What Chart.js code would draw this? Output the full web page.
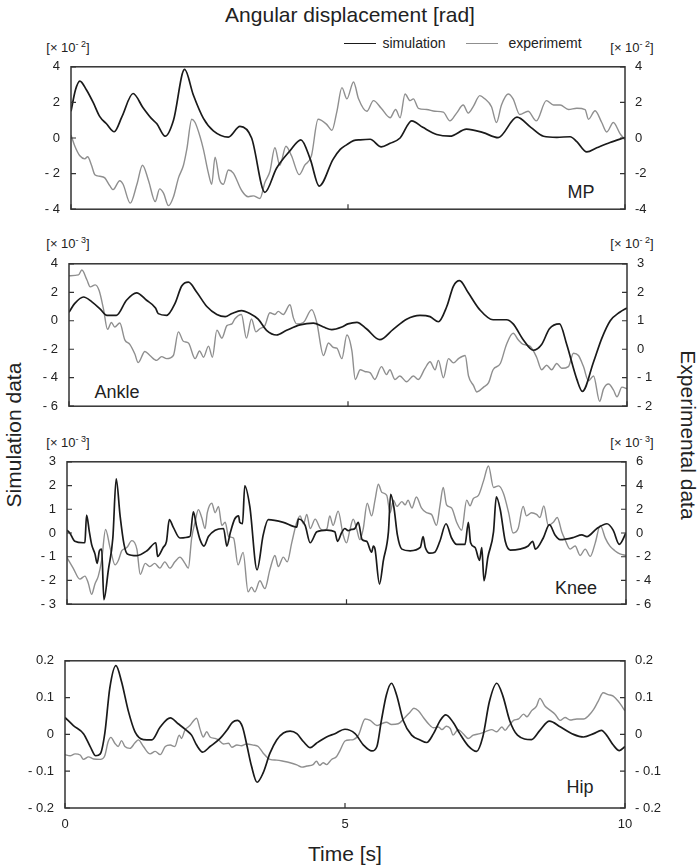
<!DOCTYPE html>
<html lang="en">
<head>
<meta charset="UTF-8">
<script src="https://cdn.jsdelivr.net/npm/chart.js@4.4.1/dist/chart.umd.min.js"></script>
<title>Angular displacement</title>
<style>
  body { margin: 0; background: #fff; font-family: "Liberation Sans", Arial, sans-serif; color: #222; }
  #fig { position: relative; width: 700px; height: 865px; overflow: hidden; }
  #fig canvas { position: absolute; left: 0; }
  .txt { position: absolute; white-space: nowrap; transform: translate(-50%, -50%); line-height: 1; }
  .big { font-size: 21px; }
  .unit { font-size: 13px; }
  .unit sup { font-size: 9px; vertical-align: 5px; line-height: 0; }
  .name { font-size: 18px; }
  .leg { position: absolute; height: 0; }
</style>
</head>
<body>
<div id="fig">
  <div class="txt big" style="left:350px;top:14px">Angular displacement [rad]</div>

  <div class="leg" style="left:344px;top:43px;width:32px;border-top:1.6px solid #1a1a1a"></div>
  <div class="txt" style="left:414px;top:43px;font-size:14px">simulation</div>
  <div class="leg" style="left:466px;top:43px;width:32px;border-top:1.6px solid #8f8f8f"></div>
  <div class="txt" style="left:545px;top:43px;font-size:14px">experimemt</div>

  <div class="txt unit" style="left:68px;top:47px">[× 10<sup>- 2</sup>]</div>
  <div class="txt unit" style="left:632px;top:47px">[× 10<sup>- 2</sup>]</div>
  <div class="txt unit" style="left:68px;top:243px">[× 10<sup>- 3</sup>]</div>
  <div class="txt unit" style="left:632px;top:243px">[× 10<sup>- 2</sup>]</div>
  <div class="txt unit" style="left:68px;top:442px">[× 10<sup>- 3</sup>]</div>
  <div class="txt unit" style="left:632px;top:442px">[× 10<sup>- 3</sup>]</div>

  <div class="txt name" style="left:581px;top:192px">MP</div>
  <div class="txt name" style="left:117px;top:392px">Ankle</div>
  <div class="txt name" style="left:576px;top:588px">Knee</div>
  <div class="txt name" style="left:580px;top:787px">Hip</div>

  <div class="txt big" style="left:13px;top:435px;transform:translate(-50%,-50%) rotate(-90deg)">Simulation data</div>
  <div class="txt big" style="left:688px;top:435px;transform:translate(-50%,-50%) rotate(90deg)">Experimental data</div>
  <div class="txt big" style="left:345px;top:853px">Time [s]</div>
</div>

<script>
// time [s], value pairs
const mpSimulation = [[0,1.5],[0.08,2.7],[0.16,3.2],[0.28,2.7],[0.4,2.0],[0.52,1.2],[0.64,0.8],[0.78,0.35],[0.92,1.2],[1.12,2.5],[1.3,1.7],[1.45,1.1],[1.55,0.8],[1.7,0.1],[1.85,1.0],[2.05,3.85],[2.21,2.4],[2.39,1.1],[2.57,0.4],[2.84,0.05],[3.05,0.65],[3.26,0],[3.5,-3.05],[3.71,-1.7],[3.95,-0.73],[4.15,-0.1],[4.32,-1.2],[4.48,-2.7],[4.73,-1.2],[4.86,-0.64],[4.98,-0.37],[5.1,-0.15],[5.22,-0.1],[5.4,-0.07],[5.6,-0.5],[5.76,-0.3],[5.94,0],[6.15,0.96],[6.35,0.6],[6.6,0.2],[6.84,0.1],[7.14,0.5],[7.44,0.3],[7.71,0.02],[8.05,1.17],[8.3,0.6],[8.53,0.1],[8.77,0.04],[9.01,0.07],[9.13,-0.2],[9.31,-0.78],[9.49,-0.55],[9.73,-0.25],[10,0.03]];
const mpExperiment = [[0,0.16],[0.07,-0.46],[0.16,-1.0],[0.25,-1.17],[0.3,-1.05],[0.37,-1.53],[0.43,-2.06],[0.52,-2.15],[0.61,-2.24],[0.7,-2.68],[0.76,-2.9],[0.88,-2.4],[0.94,-2.6],[1.07,-3.66],[1.19,-2.6],[1.29,-1.53],[1.4,-2.4],[1.52,-3.57],[1.6,-2.86],[1.67,-3.1],[1.76,-3.8],[1.85,-3.3],[1.94,-2.24],[2.03,-1.53],[2.09,-0.64],[2.18,1.05],[2.24,0.87],[2.33,0.07],[2.39,-0.64],[2.48,-1.97],[2.54,-2.6],[2.6,-1.08],[2.68,-2.33],[2.75,-2.6],[2.84,-1.8],[2.93,-1.97],[3.08,-2.95],[3.2,-3.3],[3.29,-3.25],[3.41,-3.4],[3.5,-2.5],[3.59,-1.88],[3.68,-0.55],[3.77,-1.53],[3.88,-0.46],[3.98,-1.0],[4.12,-2.06],[4.22,-1.53],[4.34,-1.0],[4.46,1.05],[4.61,0.78],[4.71,0.43],[4.8,1.5],[4.89,2.83],[4.98,2.2],[5.1,3.15],[5.19,2.2],[5.34,1.5],[5.46,2.1],[5.6,1.67],[5.76,1.14],[5.86,1.6],[5.94,1.14],[6.03,2.47],[6.12,2.1],[6.18,2.2],[6.27,1.67],[6.42,1.6],[6.57,1.5],[6.72,1.45],[6.84,0.96],[6.96,1.4],[7.08,1.85],[7.17,1.4],[7.26,1.76],[7.38,2.38],[7.47,2.2],[7.59,1.76],[7.68,0.87],[7.77,1.85],[7.89,2.47],[7.98,2.2],[8.1,1.32],[8.25,1.5],[8.4,0.96],[8.58,2.1],[8.71,1.85],[8.83,1.85],[8.98,1.6],[9.13,1.67],[9.28,1.6],[9.34,1.05],[9.46,1.53],[9.58,0.87],[9.67,0.34],[9.79,0.87],[9.91,0.25],[10,-0.1]];

const ankleSimulation = [[0,0.6],[0.1,1.2],[0.26,1.67],[0.41,1.33],[0.56,0.82],[0.68,0.38],[0.85,0.38],[1.03,1.44],[1.21,1.96],[1.39,1.44],[1.55,0.9],[1.6,0.5],[1.75,0.38],[1.9,1.22],[2.02,2.44],[2.14,2.71],[2.29,2.0],[2.47,1.0],[2.65,0.44],[2.8,0.29],[2.92,0.51],[3.09,0.71],[3.24,0.51],[3.39,0.11],[3.54,-0.67],[3.72,-1.0],[3.9,-0.67],[4.14,-0.29],[4.38,-0.16],[4.56,-0.44],[4.71,-0.62],[4.89,-0.44],[5.0,-0.22],[5.16,-0.11],[5.33,-0.56],[5.57,-1.33],[5.81,-0.6],[6.05,0.11],[6.29,0.38],[6.47,0.29],[6.62,-0.07],[6.77,1.0],[6.89,2.44],[7.0,2.82],[7.15,2.0],[7.36,0.78],[7.6,0.07],[7.84,0.07],[7.96,-0.22],[8.14,-1.33],[8.32,-2.07],[8.47,-1.67],[8.61,-0.56],[8.79,-0.22],[8.92,-1.67],[9.1,-4.1],[9.2,-4.96],[9.4,-2.9],[9.55,-1.22],[9.7,0],[9.87,0.6],[10,0.9]];
const ankleExperiment = [[0,2.58],[0.17,2.61],[0.23,2.78],[0.32,2.44],[0.38,2.19],[0.47,2.26],[0.54,2.06],[0.62,1.39],[0.69,0.7],[0.76,0.94],[0.82,0.78],[0.91,0.92],[1.0,0.33],[1.09,0.17],[1.18,-0.17],[1.24,-0.47],[1.36,-0.08],[1.45,-0.22],[1.57,-0.39],[1.66,-0.26],[1.75,-0.33],[1.87,-0.22],[1.96,0.61],[2.05,0.28],[2.14,0.22],[2.26,-0.33],[2.34,-0.06],[2.41,-0.28],[2.5,0.11],[2.57,-0.28],[2.65,0.67],[2.74,0.39],[2.83,0.83],[2.92,0.89],[2.97,1.06],[3.09,1.22],[3.18,0.39],[3.27,1.06],[3.35,0.61],[3.42,0.72],[3.51,0.83],[3.6,1.28],[3.69,1.22],[3.75,1.33],[3.84,1.22],[3.96,1.56],[4.02,1.11],[4.08,0.89],[4.2,0.94],[4.35,1.39],[4.44,0.94],[4.56,-0.22],[4.65,0.22],[4.74,0.06],[4.8,0.04],[4.89,-0.33],[4.98,0.5],[5.07,-0.06],[5.13,-1.06],[5.22,-0.72],[5.3,-0.78],[5.4,-0.83],[5.48,-1.06],[5.6,-0.61],[5.69,-0.89],[5.75,-0.72],[5.84,-1.06],[5.93,-0.94],[6.05,-1.14],[6.17,-0.94],[6.26,-1.06],[6.38,-0.67],[6.47,-0.44],[6.56,-0.72],[6.62,-0.39],[6.71,-1.0],[6.8,-0.33],[6.89,-0.48],[6.98,-0.33],[7.1,-0.22],[7.16,-0.94],[7.25,-1.28],[7.31,-1.5],[7.43,-1.33],[7.52,-1.17],[7.6,-0.72],[7.73,-0.5],[7.84,0.17],[7.96,0.56],[8.05,0.33],[8.14,0.17],[8.26,0.11],[8.38,-0.28],[8.47,-0.72],[8.56,-0.56],[8.65,-0.72],[8.74,-0.5],[8.83,-0.67],[8.95,-0.61],[9.04,-0.14],[9.13,-0.22],[9.22,-0.61],[9.31,-1.11],[9.4,-0.94],[9.51,-1.83],[9.58,-1.39],[9.67,-1.22],[9.76,-1.44],[9.82,-1.67],[9.91,-1.33],[10,-1.39]];

const kneeSimulation = [[0,0.12],[0.05,0],[0.14,-0.35],[0.29,-0.41],[0.32,-0.4],[0.35,0.75],[0.4,0.05],[0.44,-0.48],[0.5,-0.88],[0.54,-1.28],[0.58,-0.75],[0.62,-0.68],[0.66,-2.81],[0.74,-1.55],[0.82,-0.21],[0.88,2.28],[0.95,0.72],[1.02,-0.48],[1.08,-0.88],[1.25,-0.95],[1.43,-0.75],[1.59,-0.41],[1.62,-0.99],[1.72,-0.61],[1.78,-0.35],[1.83,0.56],[1.9,0.25],[2.02,-0.21],[2.2,-0.15],[2.26,0.89],[2.32,0.25],[2.38,-0.28],[2.45,-0.55],[2.53,-0.15],[2.65,0.12],[2.8,0.19],[2.86,-0.55],[2.92,0],[3.0,0.59],[3.07,0.72],[3.09,0.45],[3.14,0.39],[3.18,1.99],[3.27,1.12],[3.4,-1.55],[3.51,-0.08],[3.6,0.56],[3.87,0.45],[4.11,0.25],[4.14,0.59],[4.26,0.32],[4.35,-0.41],[4.47,0.05],[4.65,0.12],[4.79,0.05],[4.84,-0.35],[4.91,0],[4.97,0.19],[5.03,0.1],[5.09,0.15],[5.15,0.19],[5.21,0.45],[5.28,-0.28],[5.36,-0.35],[5.45,-0.81],[5.48,-0.55],[5.51,-0.68],[5.59,-2.15],[5.66,-1.15],[5.75,0.05],[5.79,1.63],[5.85,1.05],[5.91,-0.08],[5.99,-0.68],[6.14,-0.75],[6.32,-0.61],[6.37,-0.15],[6.41,-0.61],[6.49,-0.85],[6.58,-0.81],[6.67,-0.35],[6.78,0.39],[6.88,-0.21],[6.97,-0.48],[7.12,-0.48],[7.18,0.45],[7.22,-0.41],[7.3,-0.61],[7.38,-1.15],[7.42,-0.61],[7.46,-2.01],[7.53,-1.01],[7.63,0.05],[7.68,1.52],[7.75,0.99],[7.84,-0.35],[7.93,-0.72],[8.1,-0.68],[8.25,-0.55],[8.33,-0.35],[8.38,-0.68],[8.52,-0.21],[8.63,0.35],[8.73,-0.08],[8.82,-0.28],[9.06,-0.19],[9.21,-0.08],[9.3,-0.15],[9.48,0.19],[9.66,0.39],[9.77,0.12],[9.88,-0.48],[10,0]];
const kneeExperiment = [[0,-2.08],[0.11,-2.96],[0.23,-3.89],[0.32,-3.63],[0.38,-4.21],[0.44,-5.17],[0.5,-4.29],[0.56,-3.63],[0.62,-2.29],[0.69,0.29],[0.77,-1.23],[0.86,-2.69],[0.92,-2.29],[0.98,-1.49],[1.07,-1.23],[1.16,-0.64],[1.25,-1.36],[1.31,-3.49],[1.4,-2.56],[1.48,-2.83],[1.57,-2.56],[1.66,-2.96],[1.75,-2.43],[1.84,-2.96],[1.93,-2.43],[2.02,-2.03],[2.11,-2.56],[2.17,-2.96],[2.23,-0.43],[2.29,0.91],[2.35,1.97],[2.41,1.31],[2.47,0.37],[2.51,1.71],[2.59,2.51],[2.65,1.71],[2.71,2.24],[2.77,0.64],[2.83,0.91],[2.89,-0.29],[2.98,-0.43],[3.06,-2.69],[3.15,-1.63],[3.24,-4.96],[3.3,-4.56],[3.36,-4.96],[3.45,-4.03],[3.54,-4.69],[3.63,-3.09],[3.72,-1.89],[3.78,-2.83],[3.87,-2.03],[3.94,-2.43],[4.02,-0.83],[4.11,0.91],[4.17,1.44],[4.23,0.77],[4.29,1.57],[4.35,0.37],[4.44,1.17],[4.53,0.37],[4.59,0.24],[4.65,0.37],[4.7,1.44],[4.76,0.64],[4.85,1.84],[4.94,-0.16],[5.0,-0.83],[5.06,0.24],[5.12,1.17],[5.18,0.37],[5.24,-0.56],[5.3,0.37],[5.37,2.51],[5.45,1.44],[5.51,2.77],[5.57,4.11],[5.63,3.44],[5.72,3.17],[5.78,1.71],[5.84,2.77],[5.9,2.24],[5.99,2.64],[6.05,2.37],[6.1,2.77],[6.17,2.11],[6.25,3.04],[6.34,2.11],[6.43,1.71],[6.52,1.57],[6.61,0.64],[6.67,2.24],[6.73,3.84],[6.79,2.37],[6.88,2.11],[6.97,0.91],[7.06,0.24],[7.15,2.77],[7.21,2.29],[7.27,2.91],[7.36,3.17],[7.45,4.37],[7.54,5.65],[7.63,3.84],[7.72,3.97],[7.81,3.31],[7.9,1.71],[7.98,0],[8.07,0.37],[8.16,2.24],[8.22,1.44],[8.31,1.71],[8.4,1.57],[8.46,1.31],[8.53,2.29],[8.61,0.64],[8.7,0.91],[8.77,1.31],[8.85,0.11],[8.91,-0.56],[9.0,-1.36],[9.09,-1.1],[9.18,-1.89],[9.27,-1.36],[9.36,-1.97],[9.45,-0.83],[9.54,0.64],[9.63,-0.43],[9.71,-1.09],[9.8,-1.49],[9.89,-1.76],[10,-1.89]];

const hipSimulation = [[0,0.046],[0.15,0.024],[0.33,0.002],[0.45,-0.033],[0.55,-0.058],[0.63,-0.053],[0.71,0.002],[0.8,0.126],[0.91,0.187],[1.01,0.143],[1.13,0.064],[1.25,0.007],[1.4,-0.014],[1.55,-0.015],[1.7,0.02],[1.88,0.045],[2.02,0.029],[2.17,0.011],[2.26,-0.002],[2.35,-0.029],[2.46,-0.048],[2.59,-0.033],[2.77,-0.011],[2.89,0.011],[2.99,0.033],[3.08,0.038],[3.17,0.02],[3.24,-0.024],[3.33,-0.086],[3.43,-0.13],[3.54,-0.104],[3.66,-0.051],[3.78,-0.015],[3.9,0.004],[4.02,0.009],[4.14,0.002],[4.26,-0.02],[4.38,-0.036],[4.49,-0.024],[4.67,-0.007],[4.82,0.002],[5.0,0.014],[5.18,0.002],[5.33,-0.029],[5.48,-0.045],[5.57,-0.033],[5.65,0.038],[5.74,0.108],[5.83,0.139],[5.92,0.108],[6.04,0.038],[6.19,-0.002],[6.34,-0.015],[6.46,-0.022],[6.58,0.002],[6.7,0.038],[6.8,0.053],[6.93,0.033],[7.05,0.002],[7.2,-0.031],[7.35,-0.046],[7.46,-0.007],[7.58,0.09],[7.71,0.139],[7.82,0.104],[7.94,0.038],[8.08,-0.002],[8.33,-0.014],[8.48,0.011],[8.65,0.036],[8.85,0.02],[9.08,0],[9.26,-0.007],[9.44,0.002],[9.58,0.011],[9.67,-0.002],[9.79,-0.029],[9.9,-0.044],[10,-0.033]];
const hipExperiment = [[0,-0.055],[0.09,-0.058],[0.18,-0.053],[0.27,-0.056],[0.33,-0.068],[0.42,-0.061],[0.51,-0.067],[0.63,-0.068],[0.71,-0.058],[0.77,-0.02],[0.82,-0.008],[0.89,-0.024],[0.95,-0.033],[1.01,-0.017],[1.07,-0.033],[1.16,-0.038],[1.25,-0.023],[1.31,-0.015],[1.4,-0.033],[1.52,-0.053],[1.61,-0.046],[1.7,-0.055],[1.79,-0.033],[1.88,-0.029],[1.96,-0.033],[2.04,-0.002],[2.08,-0.011],[2.14,0.011],[2.23,0.024],[2.3,0.038],[2.35,0.044],[2.41,0.015],[2.47,-0.007],[2.53,0.007],[2.59,-0.007],[2.68,-0.011],[2.74,-0.015],[2.83,-0.026],[2.92,-0.024],[2.98,-0.035],[3.07,-0.029],[3.15,-0.031],[3.24,-0.026],[3.36,-0.029],[3.45,-0.033],[3.54,-0.051],[3.66,-0.068],[3.78,-0.07],[3.9,-0.073],[4.02,-0.077],[4.14,-0.083],[4.23,-0.089],[4.32,-0.086],[4.43,-0.082],[4.49,-0.073],[4.55,-0.084],[4.61,-0.077],[4.67,-0.082],[4.76,-0.068],[4.85,-0.06],[4.91,-0.044],[5.0,-0.018],[5.09,-0.015],[5.15,-0.014],[5.24,-0.002],[5.36,0.042],[5.45,0.038],[5.57,0.024],[5.65,0.029],[5.74,0.033],[5.83,0.027],[5.95,0.029],[6.07,0.046],[6.16,0.06],[6.23,0.071],[6.31,0.064],[6.4,0.046],[6.49,0.029],[6.58,0.018],[6.67,0.02],[6.73,0.013],[6.81,0.022],[6.88,0.016],[6.93,-0.002],[7.02,0.013],[7.11,0.002],[7.2,-0.011],[7.29,-0.002],[7.41,0.002],[7.53,0.009],[7.62,0.013],[7.71,0.007],[7.8,0.02],[7.86,0.011],[7.92,0.022],[8.01,0.038],[8.1,0.042],[8.19,0.055],[8.25,0.048],[8.33,0.064],[8.42,0.077],[8.48,0.098],[8.57,0.077],[8.66,0.066],[8.75,0.055],[8.84,0.038],[8.93,0.046],[9.02,0.039],[9.14,0.042],[9.26,0.042],[9.35,0.051],[9.44,0.068],[9.52,0.09],[9.61,0.113],[9.7,0.108],[9.79,0.104],[9.88,0.09],[9.96,0.073],[10,0.064]];

// tick labels
const timeTicks = [0, 5, 10];
const mpTicks = [4, 2, 0, -2, -4];
const ankleSimTicks = [4, 2, 0, -2, -4, -6];
const ankleExpTicks = [3, 2, 1, 0, -1, -2];
const kneeSimTicks = [3, 2, 1, 0, -1, -2, -3];
const kneeExpTicks = [6, 4, 2, 0, -2, -4, -6];
const hipTicks = [0.2, 0.1, 0, -0.1, -0.2];

// plot-area boxes in page pixels
const boxes = [
  { left: 71, right: 625, top: 63, bottom: 213 },
  { left: 69, right: 627, top: 260, bottom: 410 },
  { left: 67, right: 626, top: 458, bottom: 608 },
  { left: 65, right: 625, top: 657, bottom: 808 }
];

const panels = [
  { sim: mpSimulation, exp: mpExperiment, left: mpTicks, right: mpTicks, rightSpaced: false, showTime: false },
  { sim: ankleSimulation, exp: ankleExpTicks && ankleExperiment, left: ankleSimTicks, right: ankleExpTicks, rightSpaced: true, showTime: false },
  { sim: kneeSimulation, exp: kneeExperiment, left: kneeSimTicks, right: kneeExpTicks, rightSpaced: true, showTime: false },
  { sim: hipSimulation, exp: hipExperiment, left: hipTicks, right: hipTicks, rightSpaced: true, showTime: true }
];

const FONT = '"Liberation Sans", Arial, sans-serif';
const PAD = 15;

function fmt(v, spaced) {
  if (v < 0) return (spaced ? '- ' : '-') + Math.abs(v);
  return String(v);
}

// frame plus short inward tick marks
const frameTicks = {
  id: 'frameTicks',
  afterDatasetsDraw(chart) {
    const { ctx, chartArea: a, scales } = chart;
    ctx.save();
    ctx.strokeStyle = '#333';
    ctx.lineWidth = 1.5;
    ctx.strokeRect(a.left, a.top, a.right - a.left, a.bottom - a.top);
    ctx.lineWidth = 1.2;
    ctx.beginPath();
    scales.y.ticks.forEach(t => {
      const y = scales.y.getPixelForValue(t.value);
      ctx.moveTo(a.left, y); ctx.lineTo(a.left + 5, y);
    });
    scales.y2.ticks.forEach(t => {
      const y = scales.y2.getPixelForValue(t.value);
      ctx.moveTo(a.right, y); ctx.lineTo(a.right - 5, y);
    });
    scales.x.ticks.forEach(t => {
      const x = scales.x.getPixelForValue(t.value);
      ctx.moveTo(x, a.bottom); ctx.lineTo(x, a.bottom - 5);
    });
    ctx.stroke();
    ctx.restore();
  }
};

const fig = document.getElementById('fig');

panels.forEach((p, i) => {
  const b = boxes[i];
  const xAxisH = p.showTime ? 45 : PAD;
  const canvas = document.createElement('canvas');
  canvas.width = 700;
  canvas.height = PAD + (b.bottom - b.top) + xAxisH;
  canvas.style.top = (b.top - PAD) + 'px';
  fig.appendChild(canvas);

  const tickFont = { family: FONT, size: 13 };
  const toXY = arr => arr.map(([t, v]) => ({ x: t, y: v }));

  new Chart(canvas, {
    type: 'line',
    data: {
      datasets: [
        { label: 'simulation', data: toXY(p.sim), yAxisID: 'y', borderColor: '#1a1a1a', borderWidth: 1.7 },
        { label: 'experimemt', data: toXY(p.exp), yAxisID: 'y2', borderColor: '#8f8f8f', borderWidth: 1.4 }
      ]
    },
    options: {
      responsive: false,
      animation: false,
      layout: { padding: { top: PAD, left: 0, right: 0, bottom: 0 } },
      elements: { point: { radius: 0 }, line: { cubicInterpolationMode: 'monotone' } },
      plugins: { legend: { display: false }, tooltip: { enabled: false } },
      scales: {
        x: {
          type: 'linear', min: 0, max: 10,
          afterBuildTicks: s => { s.ticks = timeTicks.map(v => ({ value: v })); },
          afterFit: s => { s.height = xAxisH; },
          grid: { display: false, drawTicks: false },
          border: { display: false },
          ticks: { display: p.showTime, padding: 9, color: '#222', font: tickFont, maxRotation: 0 }
        },
        y: {
          position: 'left',
          min: p.left[p.left.length - 1], max: p.left[0],
          afterBuildTicks: s => { s.ticks = p.left.map(v => ({ value: v })); },
          afterFit: s => { s.width = b.left; },
          grid: { display: false, drawTicks: false },
          border: { display: false },
          ticks: { padding: 11, color: '#222', font: tickFont, autoSkip: false, callback: v => fmt(v, true) }
        },
        y2: {
          position: 'right',
          min: p.right[p.right.length - 1], max: p.right[0],
          afterBuildTicks: s => { s.ticks = p.right.map(v => ({ value: v })); },
          afterFit: s => { s.width = 700 - b.right; },
          grid: { display: false, drawTicks: false },
          border: { display: false },
          ticks: { padding: 10, color: '#222', font: tickFont, autoSkip: false, callback: v => fmt(v, p.rightSpaced) }
        }
      }
    },
    plugins: [frameTicks]
  });
});
</script>
</body>
</html>
